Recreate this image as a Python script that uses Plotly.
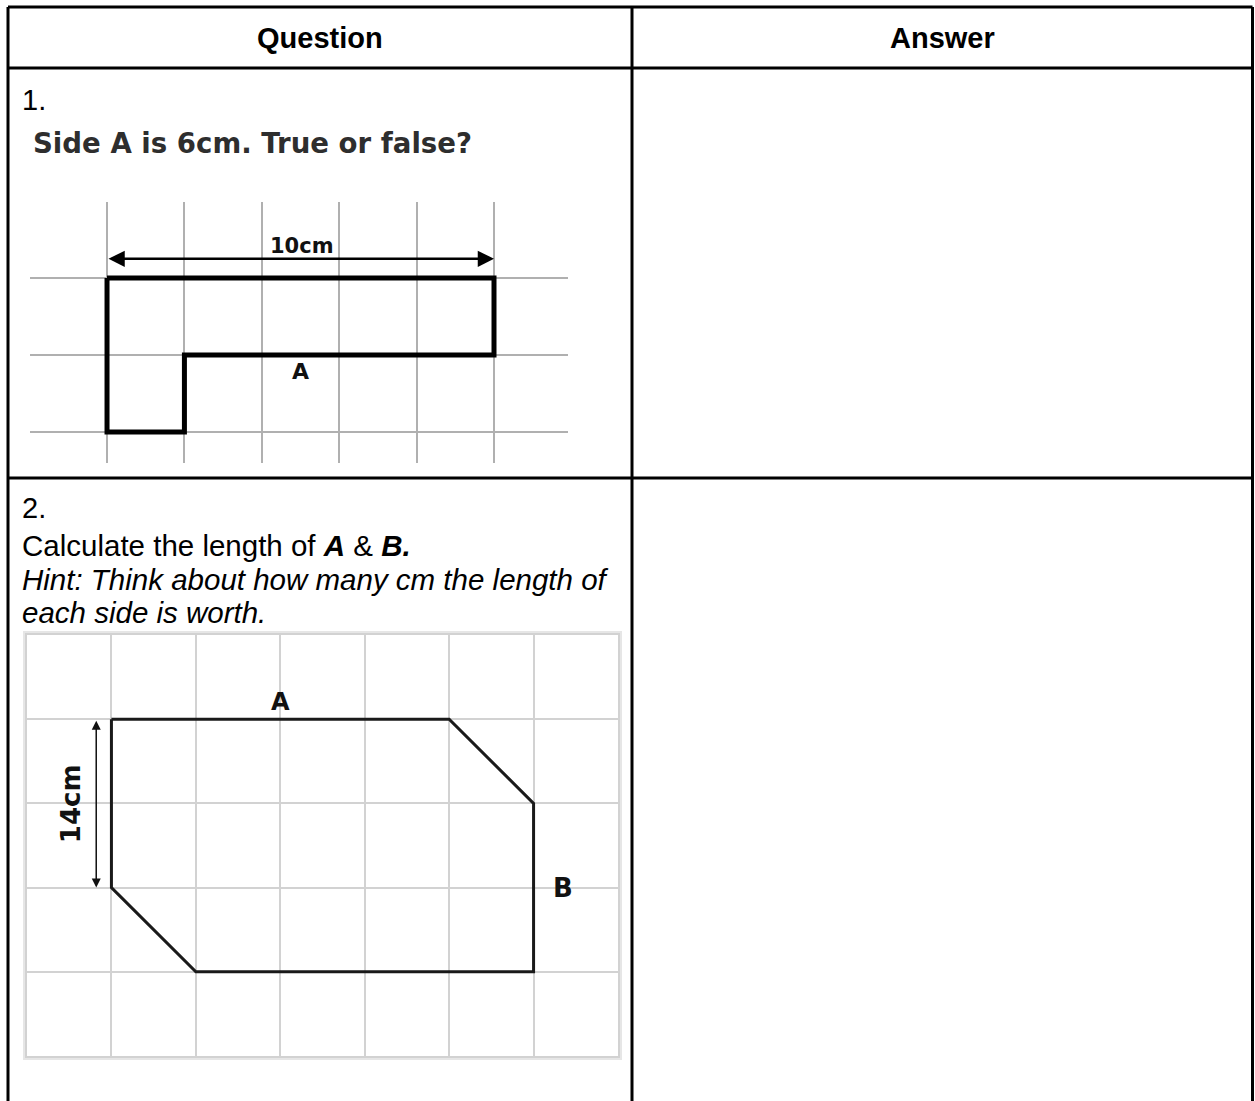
import plotly.graph_objects as go

W, H = 1255, 1101

# ---------------- content ----------------
header_labels = ["Question", "Answer"]
question_numbers = ["1.", "2."]
q1_title = "Side A is 6cm. True or false?"
q2_lines = [
    "Calculate the length of <b><i>A</i></b> &amp; <b><i>B.</i></b>",
    "<i>Hint: Think about how many cm the length of</i>",
    "<i>each side is worth.</i>",
]

# figure 1 – outline in grid-square units
fig1_x = [0, 5, 5, 1, 1, 0, 0]
fig1_y = [0, 0, 1, 1, 2, 2, 0]
fig1_dim_label = "10cm"
fig1_dim_span = [0, 5]
fig1_side_label = "A"

# figure 2 – outline in grid-square units
fig2_x = [1, 5, 6, 6, 2, 1, 1]
fig2_y = [1, 1, 2, 4, 4, 3, 1]
fig2_dim_label = "14cm"
fig2_dim_span = [1, 3]
fig2_side_labels = ["A", "B"]

# ---------------- helpers ----------------
def xdom(p0, p1):
    return [p0 / W, p1 / W]

def ydom(top, bottom):
    return [1 - bottom / H, 1 - top / H]

ARIAL = "Liberation Sans, Arial, sans-serif"
GOTHIC = "DejaVu Sans, sans-serif"

fig = go.Figure()

fig.add_trace(go.Scatter(x=fig1_x, y=fig1_y, xaxis="x2", yaxis="y2", mode="lines",
                         line=dict(color="#000000", width=5), hoverinfo="skip", showlegend=False))
fig.add_trace(go.Scatter(x=fig2_x, y=fig2_y, xaxis="x3", yaxis="y3", mode="lines",
                         line=dict(color="#1a1a1a", width=3), hoverinfo="skip", showlegend=False))

hidden = dict(visible=False, fixedrange=True)
grid_common = dict(showticklabels=False, ticks="", zeroline=False, dtick=1, tick0=0, fixedrange=True)

fig.update_layout(
    width=W, height=H,
    margin=dict(l=0, r=0, t=0, b=0, pad=0),
    paper_bgcolor="white", plot_bgcolor="rgba(0,0,0,0)",
    showlegend=False,
    xaxis=dict(domain=[0, 1], range=[0, W], **hidden),
    yaxis=dict(domain=[0, 1], range=[H, 0], **hidden),
    xaxis2=dict(domain=xdom(30.4, 568.3), range=[-0.99, 5.96], anchor="y2",
                showgrid=True, gridcolor="#b0b0b0", gridwidth=2, **grid_common),
    yaxis2=dict(domain=ydom(201.8, 462.8), range=[2.4, -0.99], anchor="x2",
                showgrid=True, gridcolor="#b0b0b0", gridwidth=2, **grid_common),
    xaxis3=dict(domain=xdom(27, 618), range=[0, 7], anchor="y3",
                showgrid=True, gridcolor="#d2d2d2", gridwidth=2,
                showline=True, mirror=True, linecolor="#d2d2d2", linewidth=2, **grid_common),
    yaxis3=dict(domain=ydom(635, 1056), range=[5, 0], anchor="x3",
                showgrid=True, gridcolor="#d2d2d2", gridwidth=2,
                showline=True, mirror=True, linecolor="#d2d2d2", linewidth=2, **grid_common),
)

# ---------------- table borders ----------------
BW = 3
table_lines = [
    (8, 7, 1252.5, 7), (8, 68, 1252.5, 68), (8, 478, 1252.5, 478),
    (8, 7, 8, H + 5), (632, 7, 632, H + 5), (1252.5, 7, 1252.5, H + 5),
]
for x0, y0, x1, y1 in table_lines:
    fig.add_shape(type="line", xref="x", yref="y", x0=x0, y0=y0, x1=x1, y1=y1,
                  line=dict(color="black", width=BW), layer="above")

# light frame around picture 2
fig.add_shape(type="rect", xref="x", yref="y", x0=24.5, y0=632.5, x1=620.5, y1=1058.5,
              line=dict(color="#e6e6e6", width=3), layer="below")

ann = []
# header
for lbl, cx in zip(header_labels, [320, 942]):
    ann.append(dict(text=f"<b>{lbl}</b>", x=cx, y=38, xref="x", yref="y", showarrow=False,
                    font=dict(family=ARIAL, size=29, color="black"), xanchor="center", yanchor="middle"))
# question numbers
for lbl, cy in zip(question_numbers, [100, 508]):
    ann.append(dict(text=lbl, x=20, y=cy, xref="x", yref="y", showarrow=False,
                    font=dict(family=ARIAL, size=29, color="black"), xanchor="left", yanchor="middle"))
# q1 title
ann.append(dict(text=f"<b>{q1_title}</b>", x=31, y=143, xref="x", yref="y", showarrow=False,
                font=dict(family=GOTHIC, size=27.6, color="#2e2e2e"), xanchor="left", yanchor="middle"))
# q2 text
for line, cy in zip(q2_lines, [545, 579, 612]):
    ann.append(dict(text=line, x=20, y=cy, xref="x", yref="y", showarrow=False,
                    font=dict(family=ARIAL, size=29.5, color="black"), xanchor="left", yanchor="middle"))

# figure 1 labels
ann.append(dict(x=fig1_dim_span[1], y=-0.25, ax=fig1_dim_span[0], ay=-0.25, xref="x2", yref="y2",
                axref="x2", ayref="y2", text="", showarrow=True, arrowhead=2, arrowside="end+start",
                arrowwidth=2.5, arrowsize=1.3, arrowcolor="black", standoff=0, startstandoff=0))
ann.append(dict(text=f"<b>{fig1_dim_label}</b>", x=2.52, y=-0.42, xref="x2", yref="y2", showarrow=False,
                font=dict(family=GOTHIC, size=21, color="#111"), xanchor="center", yanchor="middle"))
ann.append(dict(text=f"<b>{fig1_side_label}</b>", x=2.5, y=1.22, xref="x2", yref="y2", showarrow=False,
                font=dict(family=GOTHIC, size=22, color="#111"), xanchor="center", yanchor="middle"))

# figure 2 labels
ann.append(dict(x=0.82, y=fig2_dim_span[1], ax=0.82, ay=fig2_dim_span[0], xref="x3", yref="y3",
                axref="x3", ayref="y3", text="", showarrow=True, arrowhead=2, arrowside="end+start",
                arrowwidth=1.5, arrowsize=1.2, arrowcolor="#111", standoff=0, startstandoff=0))
ann.append(dict(text=f"<b>{fig2_dim_label}</b>", x=0.53, y=2, xref="x3", yref="y3", showarrow=False,
                textangle=-90, font=dict(family=GOTHIC, size=26, color="#111"),
                xanchor="center", yanchor="middle"))
ann.append(dict(text=f"<b>{fig2_side_labels[0]}</b>", x=3.0, y=0.8, xref="x3", yref="y3", showarrow=False,
                font=dict(family=GOTHIC, size=24, color="#111"), xanchor="center", yanchor="middle"))
ann.append(dict(text=f"<b>{fig2_side_labels[1]}</b>", x=6.35, y=3.0, xref="x3", yref="y3", showarrow=False,
                font=dict(family=GOTHIC, size=26, color="#111"), xanchor="center", yanchor="middle"))

fig.update_layout(annotations=ann)

fig.write_html("out.html", config={"displayModeBar": False, "staticPlot": True},
               post_script="document.body.style.margin='0';document.body.style.overflow='hidden';")
